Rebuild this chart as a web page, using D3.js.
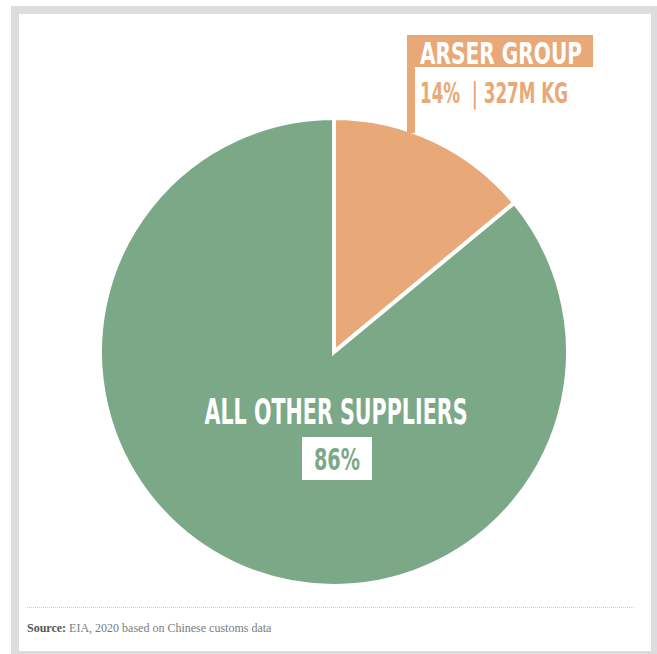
<!DOCTYPE html>
<html>
<head>
<meta charset="utf-8">
<script src="https://cdn.jsdelivr.net/npm/d3@7"></script>
<style>
  html, body { margin: 0; padding: 0; background: #fff; }
  svg { display: block; }
</style>
</head>
<body>
<div id="chart"></div>
<script>
// chart values
const categories = ["ARSER GROUP", "ALL OTHER SUPPLIERS"];
const shares = [14, 86];
const volumes = ["327M KG", ""];
const colors = ["#e8a878", "#7ba887"];
const source = ["Source:", " EIA, 2020 based on Chinese customs data"];

const width = 657, height = 654;
const cx = 334, cy = 352, radius = 234;

const svg = d3.select("#chart").append("svg")
  .attr("width", width)
  .attr("height", height);

// grey frame around the card
svg.append("rect")
  .attr("x", 11).attr("y", 6)
  .attr("width", 646).attr("height", 648)
  .attr("fill", "#dcdddf");
svg.append("rect")
  .attr("x", 19).attr("y", 14)
  .attr("width", 632).attr("height", 637)
  .attr("fill", "#ffffff");

const data = categories.map((c, i) => ({name: c, share: shares[i], vol: volumes[i], color: colors[i]}));

const pie = d3.pie().value(d => d.share).sort(null);
const arc = d3.arc().innerRadius(0).outerRadius(radius);
const arcs = pie(data);

const g = svg.append("g").attr("transform", "translate(" + cx + "," + cy + ")");

g.selectAll("path.slice")
  .data(arcs)
  .enter().append("path")
  .attr("class", "slice")
  .attr("d", arc)
  .attr("fill", d => d.data.color)
  .attr("stroke", "#fff")
  .attr("stroke-width", 4)
  .attr("stroke-linejoin", "miter");

// callout for the small slice
const small = arcs[0];
const stemX = 77;
const stemTop = 35 - cy;
const stemBottom = -Math.sqrt(radius * radius - stemX * stemX) + 2;
g.append("rect")
  .attr("x", stemX - 4).attr("y", stemTop)
  .attr("width", 8).attr("height", stemBottom - stemTop)
  .attr("fill", small.data.color);
g.append("rect")
  .attr("x", stemX - 4).attr("y", stemTop)
  .attr("width", 186).attr("height", 32)
  .attr("fill", small.data.color);

const condensed = "'Liberation Sans Narrow', 'DejaVu Sans Condensed', 'Roboto Condensed', sans-serif";

g.append("text")
  .attr("x", stemX + 9).attr("y", 64 - cy)
  .attr("font-family", condensed)
  .attr("font-weight", "bold")
  .attr("font-size", 30)
  .attr("fill", "#fff")
  .attr("textLength", 162)
  .attr("lengthAdjust", "spacingAndGlyphs")
  .text(small.data.name);

g.append("text")
  .attr("x", stemX + 9).attr("y", 103 - cy)
  .attr("font-family", condensed)
  .attr("font-weight", "bold")
  .attr("font-size", 29)
  .attr("fill", small.data.color)
  .attr("textLength", 148)
  .attr("lengthAdjust", "spacingAndGlyphs")
  .attr("xml:space", "preserve")
  .text(small.data.share + "%  | " + small.data.vol);

// label for the large slice
const big = arcs[1];
g.append("text")
  .attr("x", 2).attr("y", 424 - cy)
  .attr("text-anchor", "middle")
  .attr("font-family", condensed)
  .attr("font-weight", "bold")
  .attr("font-size", 35)
  .attr("fill", "#fff")
  .attr("textLength", 263)
  .attr("lengthAdjust", "spacingAndGlyphs")
  .text(big.data.name);

g.append("rect")
  .attr("x", 302 - cx).attr("y", 437 - cy)
  .attr("width", 70).attr("height", 43)
  .attr("fill", "#fff");

g.append("text")
  .attr("x", 337 - cx).attr("y", 470 - cy)
  .attr("text-anchor", "middle")
  .attr("font-family", condensed)
  .attr("font-weight", "bold")
  .attr("font-size", 31)
  .attr("fill", big.data.color)
  .attr("textLength", 46)
  .attr("lengthAdjust", "spacingAndGlyphs")
  .text(big.data.share + "%");

// source note
svg.append("line")
  .attr("x1", 27).attr("x2", 635)
  .attr("y1", 607.5).attr("y2", 607.5)
  .attr("stroke", "#c8cbcd")
  .attr("stroke-width", 1)
  .attr("stroke-dasharray", "1,1");

const src = svg.append("text")
  .attr("x", 27).attr("y", 632)
  .attr("font-family", "'Liberation Serif', 'DejaVu Serif', serif")
  .attr("font-size", 12)
  .attr("fill", "#7a7d80")
  .attr("xml:space", "preserve");
src.append("tspan").attr("font-weight", "bold").attr("fill", "#555").text(source[0]);
src.append("tspan").text(source[1]);
</script>
</body>
</html>
